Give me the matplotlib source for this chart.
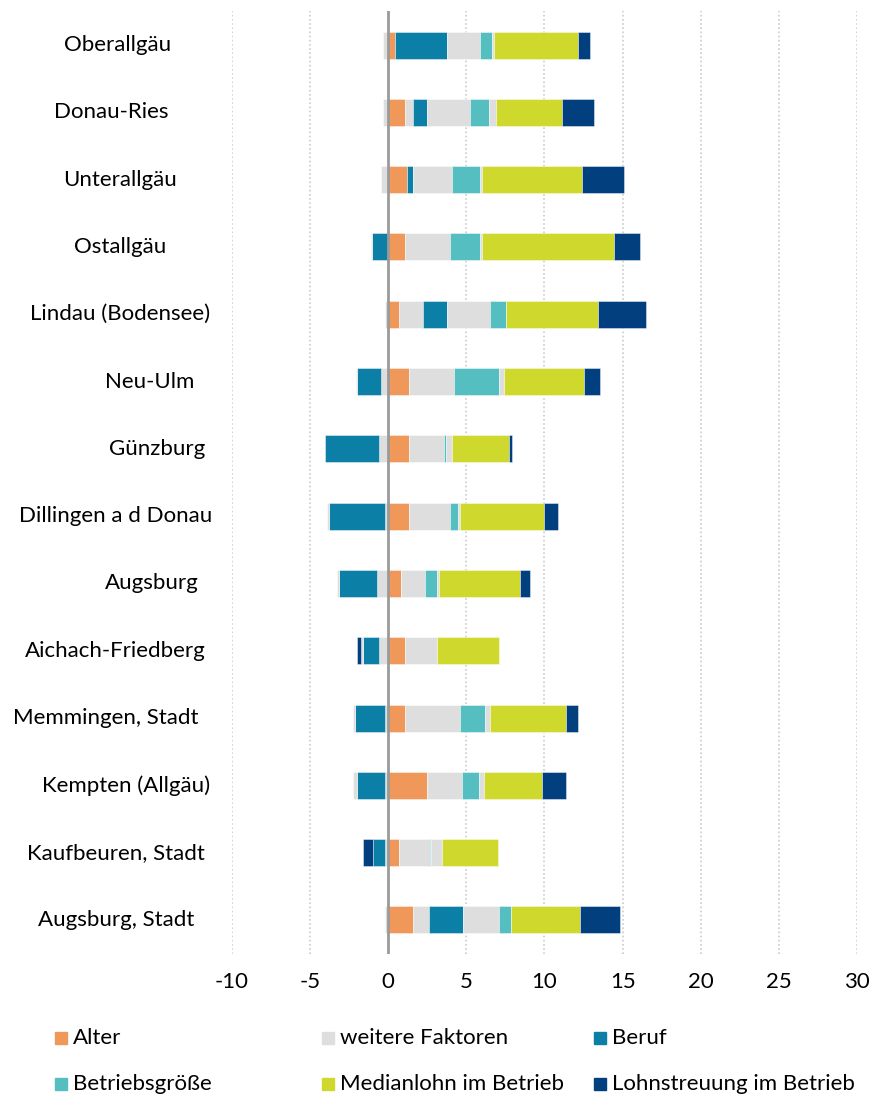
import matplotlib
matplotlib.use("Agg")
import matplotlib.pyplot as plt
from matplotlib.patches import Rectangle
from matplotlib.transforms import blended_transform_factory
import numpy as np

plt.rcParams['font.family'] = ['Lato', 'DejaVu Sans']

regions = ["Oberallgäu", "Donau-Ries", "Unterallgäu", "Ostallgäu", "Lindau (Bodensee)",
           "Neu-Ulm", "Günzburg", "Dillingen a d Donau", "Augsburg", "Aichach-Friedberg",
           "Memmingen, Stadt", "Kempten (Allgäu)", "Kaufbeuren, Stadt", "Augsburg, Stadt"]

# "weitere Faktoren" is made of several grey parts in the original chart
weitere_inner = [-0.32, -0.32, -0.45, 0.0, -0.19, -0.45, -0.58, -0.19, -0.71, -0.58, -0.19, -0.19, -0.19, -0.19]
alter = [0.45, 1.09, 1.22, 1.09, 0.71, 1.35, 1.35, 1.35, 0.84, 1.09, 1.09, 2.51, 0.71, 1.61]
weitere_a = [0.0, 0.52, 0.0, 0.0, 1.54, 0.0, 0.0, 0.0, 0.0, 0.0, 0.0, 0.0, 0.0, 1.03]
beruf = [3.33, 0.90, 0.39, -1.05, 1.53, -1.55, -3.45, -3.57, -2.42, -1.01, -1.93, -1.81, -0.78, 2.17]
weitere_outer = [0.0, 0.0, 0.0, -0.08, 0.0, -0.06, 0.0, -0.15, -0.13, -0.13, -0.13, -0.25, 0.0, 0.0]
weitere_b = [2.08, 2.70, 2.45, 2.84, 2.72, 2.83, 2.19, 2.58, 1.54, 2.06, 3.48, 2.19, 1.97, 2.31]
betriebsgroesse = [0.75, 1.27, 1.80, 1.93, 1.01, 2.94, 0.13, 0.51, 0.77, 0.0, 1.65, 1.14, 0.03, 0.76]
weitere_c = [0.15, 0.39, 0.11, 0.11, 0.0, 0.26, 0.39, 0.13, 0.13, 0.0, 0.28, 0.28, 0.73, 0.0]
medianlohn = [5.39, 4.25, 6.43, 8.47, 5.92, 5.15, 3.69, 5.39, 5.13, 3.97, 4.87, 3.71, 3.59, 4.37]
lohnstreuung = [0.77, 2.03, 2.69, 1.68, 3.07, 1.01, 0.15, 0.90, 0.65, -0.25, 0.78, 1.54, -0.64, 2.60]

xticks = [-10, -5, 0, 5, 10, 15, 20, 25, 30]

c_alter = "#EF985A"
c_grey = "#DEDEDE"
c_beruf = "#0C7FA6"
c_betrieb = "#55BEC0"
c_median = "#CFD82D"
c_lohn = "#023F7E"

series = [
    (weitere_inner, c_grey),
    (alter, c_alter),
    (weitere_a, c_grey),
    (beruf, c_beruf),
    (weitere_outer, c_grey),
    (weitere_b, c_grey),
    (betriebsgroesse, c_betrieb),
    (weitere_c, c_grey),
    (medianlohn, c_median),
    (lohnstreuung, c_lohn),
]

FS = 16

fig = plt.figure(figsize=(8.7, 10.95), dpi=100)
ax = fig.add_axes([232 / 870, 1 - 953.6 / 1095, 625 / 870, 942.2 / 1095])

y = np.arange(len(regions))
pos_left = np.zeros(len(regions))
neg_left = np.zeros(len(regions))
for vals, col in series:
    v = np.array(vals)
    left = np.where(v >= 0, pos_left, neg_left)
    ax.barh(y, v, left=left, height=0.4, color=col, edgecolor=(1, 1, 1, 0.5),
            linewidth=0.6, zorder=3)
    pos_left += np.where(v > 0, v, 0)
    neg_left += np.where(v < 0, v, 0)

ax.axvline(0, color="#9A9A9A", lw=2, zorder=4)
ax.set_xlim(-10, 30)
ax.set_ylim(len(regions) - 0.5, -0.5)
ax.set_xticks(xticks)
ax.set_xticklabels([str(t) for t in xticks], fontsize=FS)
ax.tick_params(axis="x", length=0, pad=13)
ax.set_yticks([])
for t in xticks:
    if t != 0:
        ax.axvline(t, color="#CCCCCC", lw=1.2, ls=(0, (1, 1.5)), zorder=1)
for s in ax.spines.values():
    s.set_visible(False)

# category labels, centred like the original
label_cx = [118, 111, 120, 120, 120, 150, 157, 116, 152, 115, 106, 126, 116, 116]
trans = blended_transform_factory(fig.transFigure, ax.transData)
for i, name in enumerate(regions):
    ax.text(label_cx[i] / 870, i, name, transform=trans, ha="center", va="center",
            fontsize=FS)

# legend
legend_items = [("Alter", c_alter), ("weitere Faktoren", c_grey), ("Beruf", c_beruf),
                ("Betriebsgröße", c_betrieb), ("Medianlohn im Betrieb", c_median),
                ("Lohnstreuung im Betrieb", c_lohn)]
col_x = [55, 322, 594]
row_y = [1038, 1084]
for k, (lab, col) in enumerate(legend_items):
    xp = col_x[k % 3]
    yp = row_y[k // 3]
    fig.patches.append(Rectangle((xp / 870, 1 - (yp + 6) / 1095), 12 / 870, 12 / 1095,
                                 transform=fig.transFigure, color=col))
    fig.text((xp + 18) / 870, 1 - yp / 1095, lab, ha="left", va="center", fontsize=FS)

fig.savefig("out.png", dpi=100)
